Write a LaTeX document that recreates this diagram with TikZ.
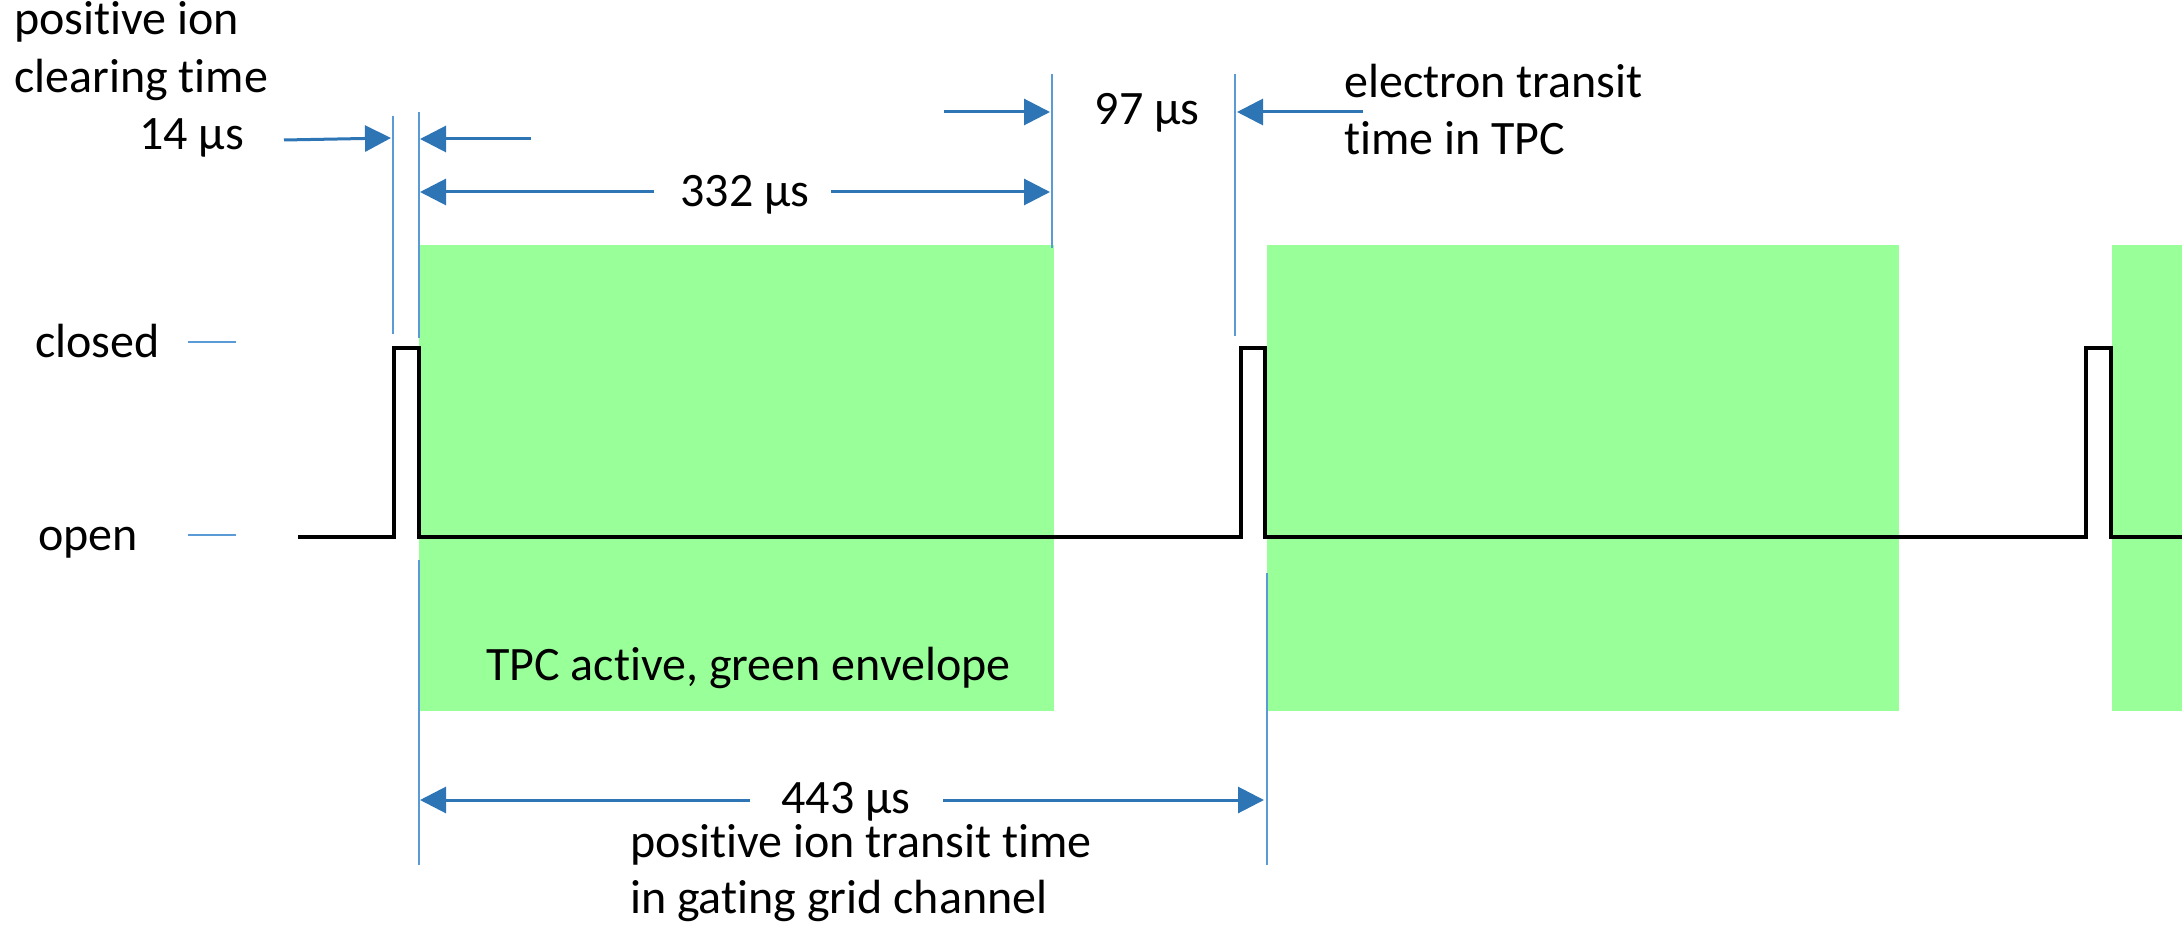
\documentclass[tikz,border=0pt]{standalone}
\usepackage{fontspec}
\setmainfont{Carlito}[Ligatures=NoCommon]
\usetikzlibrary{arrows.meta}
\definecolor{envgreen}{HTML}{99FF99}
\definecolor{arrblue}{HTML}{2E75B6}
\definecolor{guideblue}{HTML}{5B9BD5}
\tikzset{
  guide/.style={draw=guideblue, line width=1.5pt},
  dimarrow/.style={draw=arrblue, line width=3pt, -{Triangle[length=26pt,width=26pt]}},
  envelope/.style={fill=envgreen, draw=none},
  signal/.style={draw=black, line width=4.5pt, line join=miter},
  lbl/.style={inner sep=0pt, font=\fontsize{48}{56}\selectfont, text=black}
}
\begin{document}
\begin{tikzpicture}[x=1pt, y=-1pt]
\useasboundingbox (0,0) rectangle (2182,925);
% green envelopes
\fill[envelope] (419,245) rectangle (1054,711);
\fill[envelope] (1267,245) rectangle (1899,711);
\fill[envelope] (2112,245) rectangle (2182,711);
% guide lines
\draw[guide] (393,116) -- (393,334);
\draw[guide] (419,112) -- (419,338);
\draw[guide] (419,560) -- (419,865);
\draw[guide] (1052,74) -- (1052,248);
\draw[guide] (1235,74) -- (1235,336);
\draw[guide] (1267,573) -- (1267,865);
\draw[guide] (188,342) -- (236,342);
\draw[guide] (188,535) -- (236,535);
% signal
\draw[signal] (298,537) -- (394,537) -- (394,348) -- (419,348) -- (419,537)
  -- (1241,537) -- (1241,348) -- (1265,348) -- (1265,537)
  -- (2086,537) -- (2086,348) -- (2111,348) -- (2111,537) -- (2182,537);
% arrow end coordinates
\coordinate (a1s) at (284,140); \coordinate (a1e) at (391,138);
\coordinate (a2s) at (531,139); \coordinate (a2e) at (420,139);
\coordinate (b1s) at (654,192); \coordinate (b1e) at (420,192);
\coordinate (b2s) at (831,192); \coordinate (b2e) at (1050,192);
\coordinate (c1s) at (944,112); \coordinate (c1e) at (1050,112);
\coordinate (c2s) at (1363,112); \coordinate (c2e) at (1237,112);
\coordinate (d1s) at (750,800); \coordinate (d1e) at (420,800);
\coordinate (d2s) at (943,800); \coordinate (d2e) at (1264,800);
\draw[dimarrow] (a1s) -- (a1e);
\draw[dimarrow] (a2s) -- (a2e);
\draw[dimarrow] (b1s) -- (b1e);
\draw[dimarrow] (b2s) -- (b2e);
\draw[dimarrow] (c1s) -- (c1e);
\draw[dimarrow] (c2s) -- (c2e);
\draw[dimarrow] (d1s) -- (d1e);
\draw[dimarrow] (d2s) -- (d2e);
% labels
\node[lbl, anchor=base west] (pic1) at (14,35) {positive ion};
\node[lbl, anchor=base west] (pic2) at (14,93) {clearing time};
\node[lbl, anchor=base west] (t14) at (139,150) {14 µs};
\node[lbl, anchor=base] (t332) at (745,207) {332 µs};
\node[lbl, anchor=base] (t97) at (1147,125) {97 µs};
\node[lbl, anchor=base west] (et1) at (1344,98) {electron transit};
\node[lbl, anchor=base west] (et2) at (1344,155) {time in TPC};
\node[lbl, anchor=base west] (closed) at (35,357) {closed};
\node[lbl, anchor=base west] (open) at (38,550) {open};
\node[lbl, anchor=base west] (tpc) at (486,680) {TPC active, green envelope};
\node[lbl, anchor=base] (t443) at (846,813) {443 µs};
\node[lbl, anchor=base west] (pit1) at (630,857) {positive ion transit time};
\node[lbl, anchor=base west] (pit2) at (630,913) {in gating grid channel};
\end{tikzpicture}
\end{document}
